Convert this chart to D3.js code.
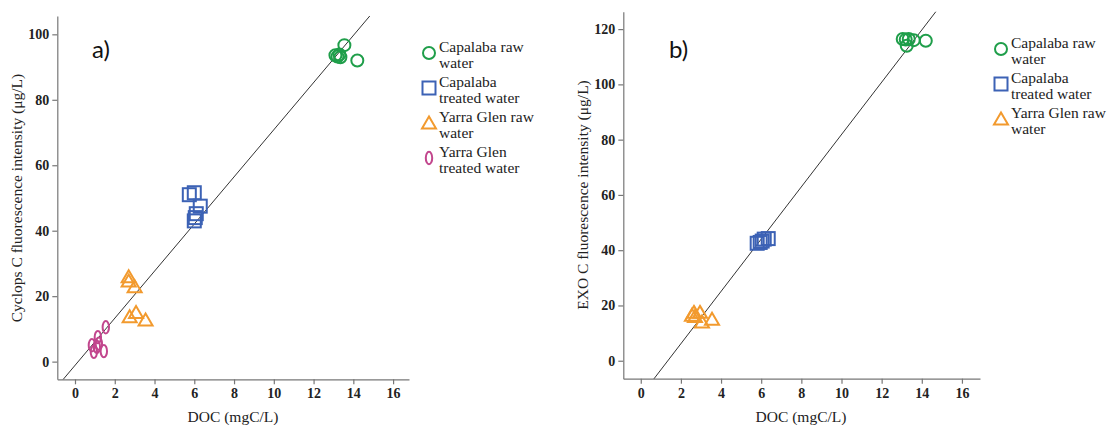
<!DOCTYPE html>
<html>
<head>
<meta charset="utf-8">
<script src="https://cdn.jsdelivr.net/npm/d3@7"></script>
<style>
  body { margin: 0; background: #fff; }
  svg { display: block; }
  .axis path, .axis line { stroke: #777; stroke-width: 1.2; }
  .axis text { font-family: "Liberation Serif", "Times New Roman", serif; font-size: 14px; font-weight: bold; fill: #222; }
  .title { font-family: "Liberation Serif", "Times New Roman", serif; font-size: 15.5px; fill: #222; }
  .legend text { font-family: "Liberation Serif", "Times New Roman", serif; font-size: 15.5px; fill: #222; }
  .tag { font-family: "Lato", "Open Sans", sans-serif; font-size: 24px; fill: #111; }
</style>
</head>
<body>
<script>

// data (x = DOC mgC/L, y = fluorescence ug/L)
let capRawA = [[13.1, 93.6], [13.2, 93.2], [13.3, 93.8], [13.35, 93.0], [13.55, 96.7], [14.2, 92.0]];
let capTreatedA = [[5.75, 51.0], [6.0, 51.6], [6.3, 47.5], [6.1, 45.2], [6.0, 43.0], [6.05, 44.0]];
let yarraRawA = [[2.7, 25.9], [2.7, 24.6], [3.0, 22.9], [2.75, 13.7], [3.07, 15.0], [3.55, 12.7]];
let yarraTreatedA = [[1.55, 10.5], [1.15, 7.5], [0.85, 5.0], [1.1, 4.5], [0.95, 3.0], [1.45, 3.2], [1.2, 5.5]];

let capRawB = [[13.05, 116.4], [13.2, 116.2], [13.35, 116.4], [13.6, 116.0], [13.25, 114.0], [14.2, 115.8]];
let capTreatedB = [[5.8, 42.5], [6.05, 43.3], [6.15, 44.0], [6.35, 44.2], [5.95, 42.8]];
let yarraRawB = [[2.55, 16.5], [2.65, 17.5], [2.7, 16.0], [2.95, 17.5], [3.05, 14.0], [3.55, 15.0]];

let xTicks = [0, 2, 4, 6, 8, 10, 12, 14, 16];
let yTicksA = [0, 20, 40, 60, 80, 100];
let yTicksB = [0, 20, 40, 60, 80, 100, 120];

// fit lines [slope, intercept]
let fitA = [7.2, -1.15];
let fitB = [9.46, -12.75];

let legendLines = [["Capalaba raw", "water"], ["Capalaba", "treated water"], ["Yarra Glen raw", "water"], ["Yarra Glen", "treated water"]];

let colors = {
  circle: "#1f9e4a",
  square: "#3c62b5",
  triangle: "#f29a2e",
  ellipse: "#c2468d"
};
let shapes = ["circle", "square", "triangle", "ellipse"];

let width = 1110, height = 425;

let svg = d3.select("body").append("svg")
  .attr("width", width)
  .attr("height", height);

let drawMarker = function(g, shape, cx, cy) {
  let col = colors[shape];
  if (shape == "circle") {
    g.append("circle").attr("cx", cx).attr("cy", cy).attr("r", 6)
      .attr("fill", "none").attr("stroke", col).attr("stroke-width", 2);
  } else if (shape == "square") {
    g.append("rect").attr("x", cx - 6.5).attr("y", cy - 6.5).attr("width", 13).attr("height", 13)
      .attr("fill", "none").attr("stroke", col).attr("stroke-width", 2);
  } else if (shape == "triangle") {
    g.append("path")
      .attr("d", "M" + cx + "," + (cy - 6.5) + " L" + (cx + 7) + "," + (cy + 5.5) + " L" + (cx - 7) + "," + (cy + 5.5) + " Z")
      .attr("fill", "none").attr("stroke", col).attr("stroke-width", 2);
  } else {
    g.append("ellipse").attr("cx", cx).attr("cy", cy).attr("rx", 3.2).attr("ry", 6.2)
      .attr("fill", "none").attr("stroke", col).attr("stroke-width", 2);
  }
};

function panel(opts) {
  let x = d3.scaleLinear().domain(opts.xDomain).range(opts.xRange);
  let y = d3.scaleLinear().domain(opts.yDomain).range(opts.yRange);

  let g = svg.append("g").attr("class", "panel");

  let clipId = "clip-" + opts.tag[0];
  g.append("clipPath").attr("id", clipId)
    .append("rect")
    .attr("x", opts.xRange[0]).attr("y", opts.yRange[1])
    .attr("width", opts.xRange[1] - opts.xRange[0])
    .attr("height", opts.yRange[0] - opts.yRange[1]);

  g.append("g")
    .attr("class", "axis")
    .attr("transform", "translate(0," + opts.yRange[0] + ")")
    .call(d3.axisBottom(x).tickValues(xTicks).tickSize(5).tickSizeOuter(0).tickPadding(4));

  g.append("g")
    .attr("class", "axis")
    .attr("transform", "translate(" + opts.xRange[0] + ",0)")
    .call(d3.axisLeft(y).tickValues(opts.yTicks).tickSize(5).tickSizeOuter(0).tickPadding(3));

  // fit line
  let xd = x.domain();
  g.append("line")
    .attr("clip-path", "url(#" + clipId + ")")
    .attr("x1", x(xd[0])).attr("y1", y(opts.fit[0] * xd[0] + opts.fit[1]))
    .attr("x2", x(xd[1])).attr("y2", y(opts.fit[0] * xd[1] + opts.fit[1]))
    .attr("stroke", "#333").attr("stroke-width", 1);

  // points
  opts.series.forEach(function(s, i) {
    let sg = g.append("g").attr("class", "series");
    s.forEach(function(d) {
      drawMarker(sg, shapes[i], x(d[0]), y(d[1]));
    });
  });

  // titles
  g.append("text").attr("class", "title")
    .attr("x", opts.xTitle[0]).attr("y", opts.xTitle[1])
    .attr("text-anchor", "middle")
    .text("DOC (mgC/L)");

  g.append("text").attr("class", "title")
    .attr("transform", "translate(" + opts.yTitle[0] + "," + opts.yTitle[1] + ") rotate(-90)")
    .attr("text-anchor", "middle")
    .attr("dy", "0.35em")
    .text(opts.yLabel);

  g.append("text").attr("class", "tag")
    .attr("x", opts.tagPos[0]).attr("y", opts.tagPos[1])
    .text(opts.tag);

  // legend
  let lg = g.append("g").attr("class", "legend");
  opts.series.forEach(function(s, i) {
    let by = opts.legend[1] + i * opts.legendStep;
    drawMarker(lg, shapes[i], opts.legend[0], by + 1);
    let t = lg.append("text").attr("x", opts.legend[0] + 10).attr("y", by);
    legendLines[i].forEach(function(line, j) {
      t.append("tspan").attr("x", opts.legend[0] + 10).attr("dy", j == 0 ? "0.35em" : 15.5).text(line);
    });
    t.attr("transform", "translate(0,-5)");
  });
}

panel({
  tag: "a)",
  xDomain: [-0.89, 16.8], xRange: [57.3, 409],
  yDomain: [-5.4, 105.6], yRange: [379.3, 16],
  yTicks: yTicksA,
  fit: fitA,
  series: [capRawA, capTreatedA, yarraRawA, yarraTreatedA],
  yLabel: "Cyclops C fluorescence intensity (\u03bcg/L)",
  xTitle: [233, 422], yTitle: [17, 198],
  tagPos: [92, 58],
  legend: [429, 52], legendStep: 35
});

panel({
  tag: "b)",
  xDomain: [-0.87, 16.9], xRange: [623.3, 980],
  yDomain: [-6.5, 126.3], yRange: [378.7, 11.7],
  yTicks: yTicksB,
  fit: fitB,
  series: [capRawB, capTreatedB, yarraRawB],
  yLabel: "EXO C fluorescence intensity (\u03bcg/L)",
  xTitle: [801, 422], yTitle: [583, 195],
  tagPos: [669, 58],
  legend: [1001, 48], legendStep: 35
});

</script>
</body>
</html>
